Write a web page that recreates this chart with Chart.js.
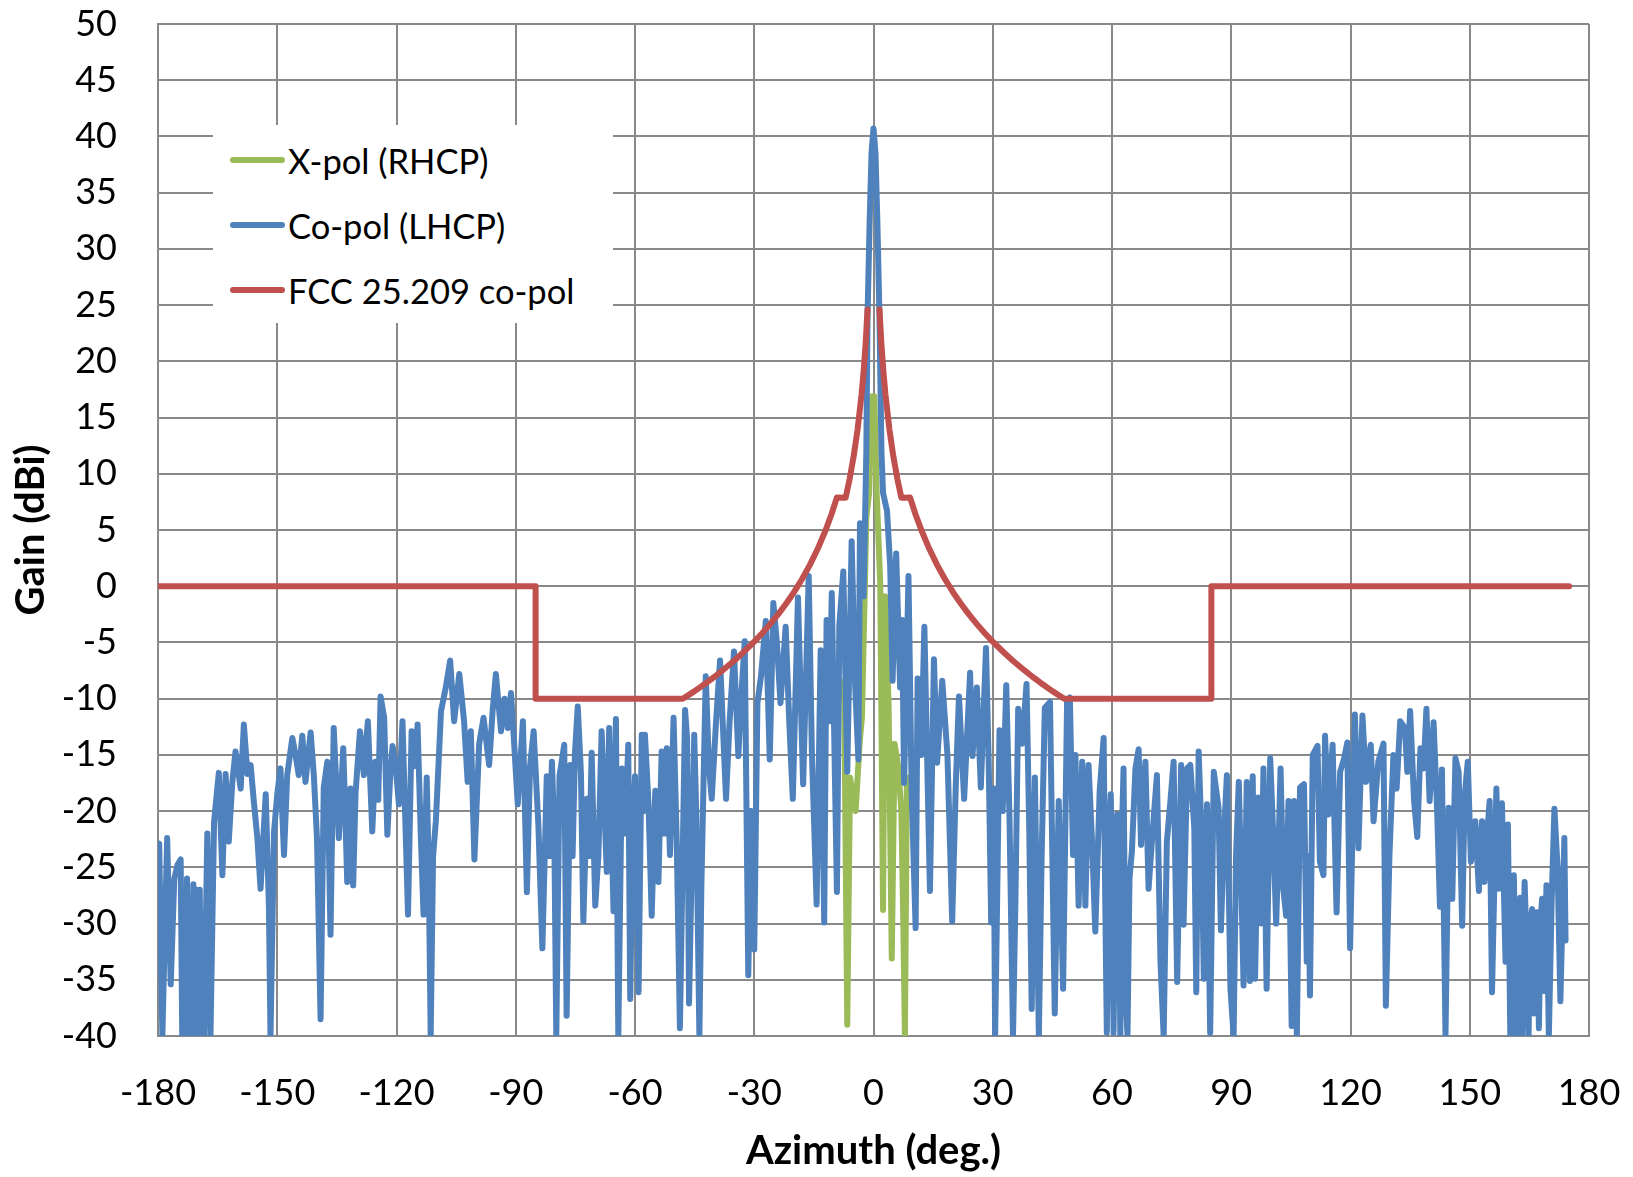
<!DOCTYPE html>
<html>
<head>
<meta charset="utf-8">
<script src="https://cdn.jsdelivr.net/npm/chart.js@4.4.1/dist/chart.umd.min.js"></script>
<style>
  body{margin:0;background:#fff;}
  #wrap{position:relative;width:1633px;height:1177px;}
  #legend{position:absolute;left:213px;top:125px;width:400px;height:198px;background:#fff;font:34.5px Lato, sans-serif;color:#000;}
  .row{position:absolute;left:17px;height:40px;display:flex;align-items:center;white-space:nowrap;}
  .row i{display:inline-block;width:55px;height:6px;border-radius:3px;margin-right:3px;}
</style>
</head>
<body>
<div id="wrap">
  <canvas id="chart" width="1633" height="1177"></canvas>
  <div id="legend">
    <div class="row" style="top:15px"><i style="background:#9BBB59"></i>X-pol (RHCP)</div>
    <div class="row" style="top:80px"><i style="background:#4F81BD"></i>Co-pol (LHCP)</div>
    <div class="row" style="top:145px"><i style="background:#C0504D"></i>FCC 25.209 co-pol</div>
  </div>
</div>
<script>
// co-pol (LHCP) pattern, [azimuth, gain]
var coWest = [[-180,-23],[-179.7,-22.9],[-178.9,-40],[-177.7,-22.4],[-176.8,-35.4],[-175.9,-26],[-175.1,-24.8],[-174.3,-24.3],
  [-173.9,-40],[-173.5,-27],[-173.1,-40],[-172.7,-26],[-172.3,-40],[-171.9,-28],[-171.5,-40],[-171.1,-26.5],[-170.7,-40],[-170.3,-27],
  [-169.9,-40],[-169.5,-27],[-169.1,-40],[-168.7,-30],[-168.4,-40],[-167.6,-22],[-166.8,-40],[-165.9,-21],[-164.7,-16.6],[-163.8,-25.7],
  [-163,-16.7],[-162.2,-22.7],[-161.3,-17.4],[-160.5,-14.7],[-159.2,-18],[-158.4,-12.3],[-157.5,-16.7],[-156.7,-15.9],[-155.9,-19.1],
  [-155,-22.4],[-154.2,-26.9],[-152.9,-18.5],[-152.1,-28.4],[-151.7,-40],[-150.8,-21.8],[-150,-18.5],[-149.2,-16.2],[-148.3,-23.9],
  [-147.5,-16.8],[-146.2,-13.5],[-145.4,-15],[-144.6,-16.8],[-143.7,-13.3],[-142.9,-17.4],[-141.6,-13],[-140.8,-16.8],[-140,-22.4],
  [-139.1,-38.5],[-138.3,-17.9],[-137.4,-15.6],[-136.6,-31],[-135.8,-12.6],[-134.5,-22.4],[-133.4,-14.4],[-132.9,-20],[-132.4,-26.3],
  [-131.6,-18],[-130.9,-26.6],[-130.3,-18.4],[-129.2,-12.9],[-128.2,-16.8],[-127.7,-14],[-127.2,-12],[-126.1,-21.8],[-125.3,-15.6],
  [-124.6,-19],[-124,-9.8],[-123.1,-11.7],[-122.3,-22.1],[-121.6,-17],[-121,-14.2],[-120.2,-16],[-119.4,-19.4],[-118.5,-12],
  [-117.1,-29.2],[-116.2,-12.9],[-115.4,-16],[-114.7,-12.3],[-113.9,-22],[-113.2,-29.2],[-112.4,-17],[-111.9,-25],[-111.4,-40],
  [-110.8,-24],[-110.1,-20.9],[-108.8,-11.1],[-107.6,-9],[-106.5,-6.6],[-105.5,-12],[-104.2,-7.8],[-103,-12],[-102.1,-17.4],
  [-101.3,-12.9],[-100.4,-24.3],[-99.2,-14],[-98.1,-11.7],[-96.7,-15.9],[-95.8,-11],[-95,-7.8],[-93.7,-12.9],[-92.8,-10],
  [-92,-12.6],[-91.2,-9.5],[-90.4,-14]];
var coMid = [[-89.5,-19.4],[-88.2,-12],[-87.2,-27.2],[-86.4,-16],[-85.5,-12.9],[-84.3,-21.3],[-83.3,-32.2],[-82.2,-16.9],[-81.5,-24],
  [-80.9,-15.6],[-80.3,-22],[-79.8,-40],[-79,-16.9],[-77.8,-14.1],[-77.2,-38.2],[-76.3,-15.9],[-75.7,-24],[-75.1,-14.8],[-74.4,-10.7],
  [-73.6,-16.6],[-73,-29.8],[-72.1,-18.9],[-71.5,-24],[-70.9,-14.8],[-70,-28.4],[-69.2,-23.9],[-68.4,-12.9],[-67.1,-25.4],[-66.5,-12.6],
  [-65.4,-28.9],[-64.8,-11.8],[-64.2,-40],[-63.3,-16.2],[-62.5,-22],[-61.7,-14.1],[-61.2,-36.7],[-60.6,-22],[-60,-16.9],[-59.1,-36.1],
  [-58.3,-13.2],[-57.9,-20],[-57.5,-13.2],[-56.6,-19.4],[-55.8,-29.3],[-54.9,-18.2],[-54.1,-26.3],[-53.3,-14.7],[-52.6,-22],[-52,-14.4],
  [-51.2,-23.9],[-50.3,-11.7],[-49.5,-22.7],[-48.7,-39.3],[-47.4,-11],[-46.9,-13.5],[-46.4,-37.1],[-45.1,-13.2],[-44.6,-20],[-43.8,-40],
  [-43.3,-26.6],[-42.2,-8],[-41.4,-16],[-40.7,-18.9],[-39.6,-12],[-38.6,-6.6],[-37.7,-14],[-37.1,-18.9],[-36.2,-12],[-35.1,-5.8],
  [-34,-15.1],[-33.3,-10],[-32.4,-4.9],[-31.5,-34.6],[-30.8,-20],[-30,-32.3],[-29.2,-10.4],[-28.3,-8],[-27.1,-3.1],[-26.1,-15.4],
  [-25.2,-1.5],[-24.3,-5],[-23.4,-10.4],[-22.1,-3.6],[-21.2,-12],[-20.3,-18.9],[-19,-1],[-17.7,-17.6],[-16.3,0.9],[-15.5,-14.8],
  [-14.3,-28.3],[-13.3,-5.7],[-12.4,-29.9],[-11.8,-3],[-11.1,-12],[-10.5,-0.6],[-9.2,-27.2],[-8.6,-3.5],[-7.6,1.3],[-6.6,-16.5],
  [-5.5,4],[-4.6,-9],[-3.8,-15.4],[-3.4,5.6],[-2.5,-0.9],[-1.8,12],[-1.5,24],[-1,32],[-0.5,38.5],[0,40.7],[0.5,38.5],[1,32],
  [1.5,24],[2,12],[2.4,8.3],[3.4,6.7],[4.2,1.8],[4.8,-8.4],[5.7,2.9],[6.7,-9],[7.2,-3],[7.7,-17.5],[8.8,0.9],[9.6,-18.3],
  [10.6,-30.4],[11.1,-8.2],[12,-15],[12.8,-3.6],[14.2,-27.1],[15.2,-6.5],[16,-15.7],[17.3,-8.4],[18.6,-15],[19.8,-29.8],[20.7,-17.7],
  [21.5,-9.8],[22.8,-18.9],[24.3,-7.7],[24.9,-15.1],[26,-9],[27,-17.9],[28.3,-5.5],[29,-16],[29.6,-29.9],[30.2,-18],[30.6,-40],
  [31.1,-28],[31.7,-12.8],[32.5,-20],[33.4,-8.8],[34.2,-20.4],[35.1,-40],[35.7,-28],[36.4,-10.9],[37.4,-14],[38.5,-8.7],[39.2,-22],
  [39.8,-37.6],[40.6,-17],[41.6,-40],[42.3,-24],[43.1,-10.8],[44.4,-10.3],[45.6,-38],[46.1,-28],[46.6,-19.1],[47.7,-35.8],[48.7,-10.2],
  [49.4,-9.9],[50.2,-23.9],[50.8,-15],[51.6,-28.4],[52.5,-15.6],[53.3,-28.4],[54.1,-15.9],[55,-22.9],[55.8,-30.7],[56.9,-18.2],
  [57.9,-13.5],[58.3,-28],[58.7,-39.7],[59.2,-22],[59.7,-18.5],[60.4,-39.7],[60.9,-24],[61.3,-20.3],[61.7,-26],[62.1,-40],[62.5,-22],
  [62.9,-16.2],[63.4,-36],[63.9,-40],[64.4,-26],[65,-23.6],[65.9,-16.2],[66.7,-14.5],[67.3,-23],[68.4,-15.6],[69.2,-26.9],[70.1,-22.4],
  [71.3,-16.8],[72.2,-33.4],[73,-40],[73.8,-22.7],[74.7,-19.1],[75.5,-15.6],[76.4,-35.2],[77.4,-15.9],[78,-30.1],[78.9,-16.2],
  [79.7,-15.9],[80.7,-21.5],[81.2,-36.1],[81.8,-14.7],[82.5,-22],[83.1,-34.9],[83.9,-19.4],[84.7,-39.7],[85.6,-16.5],[86.8,-19.7],
  [87.4,-30.6],[88.2,-22],[88.9,-16.8],[89.8,-35.8]];
var coEast = [[90.6,-40],[91.2,-24],[91.9,-17.4],[92.5,-26],[93.1,-35.5],[93.9,-17.4],[94.7,-35.1],[95.4,-16.9],[96,-34.9],[96.8,-18.8],
  [97.5,-30],[98.1,-16.2],[98.9,-35.8],[99.8,-15.3],[100.6,-22.4],[101.3,-30],[101.9,-23.3],[102.4,-16.2],[103.1,-26.9],[103.8,-29.3],
  [104.4,-19.1],[105.2,-39.1],[105.8,-19.1],[106.5,-40],[107.3,-17.9],[108.3,-17.6],[109,-33.4],[109.4,-24],[109.8,-36.4],[110.5,-15],
  [111.7,-14.2],[112.3,-24.5],[113.2,-25.7],[113.6,-13.3],[114.4,-20.3],[115.5,-14.1],[116.5,-29],[117.4,-16.5],[118.4,-15.3],
  [119.2,-13.9],[119.9,-32.2],[121.1,-11.4],[122,-23.3],[123,-11.5],[123.9,-17.4],[125.1,-14.1],[125.8,-20.9],[127,-15.6],[128.3,-14],
  [128.9,-37.3],[129.8,-23.9],[130.8,-15],[131.6,-18],[132.5,-12],[133.7,-12.6],[134.3,-16.5],[135,-11.1],[136,-19.1],[136.8,-22.3],
  [137.6,-14.4],[138.4,-16.2],[139.1,-10.9],[139.9,-19.1],[140.9,-12.1],[141.8,-20],[142.5,-28.5],[143,-16.3],[143.9,-40],[144.7,-19.7],
  [145.6,-27.8],[146.4,-15.3],[147.2,-16.5],[148.1,-30.2],[148.7,-18.8],[149.5,-15.6],[150.3,-24.5],[151.4,-20.9],[152.3,-27.1],
  [153.1,-20.9],[153.7,-26.3],[154.4,-22],[155,-19.1],[155.6,-36.1],[156.7,-18],[157.3,-26.9],[158.1,-19.3],[159,-33.4],[159.6,-21.2],
  [160.2,-40],[160.6,-28],[161.1,-25.7],[161.7,-40],[162.2,-30],[162.7,-27.7],[163.2,-40],[163.8,-26.3],[164.3,-32],[164.8,-40],
  [165.2,-30],[165.7,-28.7],[166.1,-38],[166.5,-33.7],[166.9,-29],[167.4,-39.3],[167.8,-30],[168.2,-27.8],[168.7,-36],[169.3,-26.6],
  [169.9,-40],[170.6,-28],[171.3,-19.8],[172.1,-25.1],[172.8,-36.9],[173.8,-22.4],[174.1,-31.5]];

// x-pol (RHCP), only measured near boresight
var xAz   = [-7.8,-7.4,-6.6,-5.9,-4.5,-3.5,-2.9,-1.8,-1.1,-0.4,0.2,0.8,1.7,2.4,2.9,3.8,4.6,5.3,6.2,7.0,7.5,7.9,8.4];
var xGain = [-10,-8.4,-39,-17,-20,-14,-11.6,6.1,8.3,16.9,16.9,8.3,0.2,-28.8,-0.9,-10.5,-33.1,-14,-16,-20,-30,-40,-17];

// FCC 25.209 co-pol mask
var fccAz = [-180,-85,-85,-48,-45,-42,-40,-38,-35,-33,-30,-28,-26,-24,-22,-20,-18,-16,-14,-12,-10.5,-9.2,-7,-6,-5,-4,-3,-2.5,-2,-1.5,
  0,1.5,2,2.5,3,4,5,6,7,9.2,10.5,12,14,16,18,20,22,24,26,28,30,33,35,38,40,42,45,48,85,85,175];
var fccGain = [0,0,-10,-10,-9.33,-8.58,-8.05,-7.49,-6.6,-5.96,-4.93,-4.18,-3.37,-2.5,-1.56,-0.53,0.62,1.9,3.35,5.02,6.47,7.9,7.87,9.55,11.53,13.95,17.07,19.05,21.47,24.6,
  null,24.6,21.47,19.05,17.07,13.95,11.53,9.55,7.87,7.9,6.47,5.02,3.35,1.9,0.62,-0.53,-1.56,-2.5,-3.37,-4.18,-4.93,-5.96,-6.6,-7.49,-8.05,-8.58,-9.33,-10,-10,0,0];

function pts(a, g){ return a.map(function(x, i){ return {x:x, y:g[i]}; }); }
function pairPts(list){ return list.map(function(p){ return {x:p[0], y:p[1]}; }); }

var GRID = '#898989';
var tickFont = {family:'Lato', size:36};
var titleFont = {family:'Lato', size:40, weight:'bold'};

// keep the plot box where the original has it: drop the label overhang padding
function noPad(s){ s.paddingTop = 0; s.paddingBottom = 0; s.paddingLeft = 0; s.paddingRight = 0; }

var ctx = document.getElementById('chart').getContext('2d');
new Chart(ctx, {
  type:'line',
  data:{ datasets:[
    { label:'X-pol (RHCP)', data:pts(xAz, xGain), borderColor:'#9BBB59', borderWidth:6, order:3 },
    { label:'Co-pol (LHCP)', data:pairPts(coWest.concat(coMid, coEast)), borderColor:'#4F81BD', borderWidth:6, order:2 },
    { label:'FCC 25.209 co-pol', data:pts(fccAz, fccGain), borderColor:'#C0504D', borderWidth:6, order:1, spanGaps:false }
  ]},
  options:{
    responsive:false, animation:false, devicePixelRatio:1,
    layout:{ padding:{ top:24, right:44, left:0, bottom:0 } },
    elements:{
      point:{ radius:0 },
      line:{ tension:0, borderCapStyle:'round', borderJoinStyle:'round', fill:false }
    },
    plugins:{ legend:{ display:false }, tooltip:{ enabled:false } },
    scales:{
      x:{
        type:'linear', min:-180, max:180,
        ticks:{ stepSize:30, font:tickFont, color:'#000', padding:36, maxRotation:0, autoSkip:false },
        grid:{ color:GRID, lineWidth:2, drawTicks:false },
        border:{ color:GRID, width:2 },
        title:{ display:true, text:'Azimuth (deg.)', font:titleFont, color:'#000', padding:{ top:0, bottom:2 } },
        afterFit:function(s){ s.height = 141; noPad(s); }
      },
      y:{
        min:-40, max:50,
        ticks:{ stepSize:5, font:tickFont, color:'#000', padding:41, autoSkip:false },
        grid:{ color:GRID, lineWidth:2, drawTicks:false },
        border:{ color:GRID, width:2 },
        title:{ display:true, text:'Gain (dBi)', font:titleFont, color:'#000', padding:{ top:7, bottom:0 } },
        afterFit:function(s){ s.width = 158; noPad(s); }
      }
    }
  }
});
</script>
</body>
</html>
